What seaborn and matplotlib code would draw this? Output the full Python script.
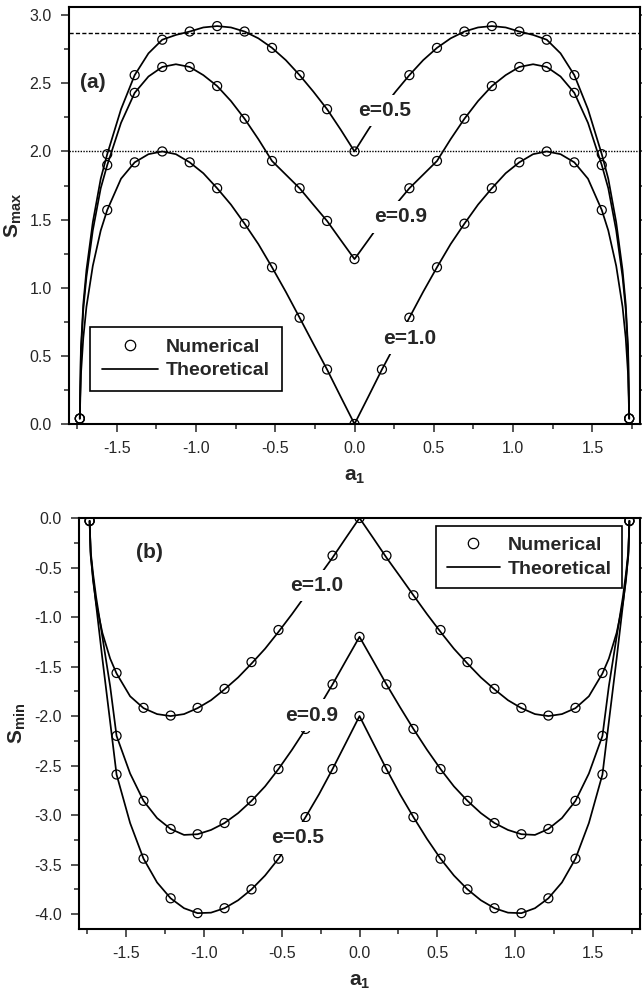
import matplotlib
matplotlib.use("Agg")
import matplotlib.pyplot as plt
from matplotlib.lines import Line2D
from matplotlib.ticker import MultipleLocator, FormatStrFormatter
import pandas as pd
import seaborn as sns

# ---- numerical points (circles), a1 from -sqrt(3) to sqrt(3) ----
a1_num = [-1.732, -1.559, -1.386, -1.212, -1.039, -0.866, -0.693, -0.520, -0.346, -0.173, 0.0,
          0.173, 0.346, 0.520, 0.693, 0.866, 1.039, 1.212, 1.386, 1.559, 1.732]

smax_num_05 = [0.04, 1.98, 2.56, 2.82, 2.88, 2.92, 2.88, 2.76, 2.56, 2.31, 2.00,
               2.31, 2.56, 2.76, 2.88, 2.92, 2.88, 2.82, 2.56, 1.98, 0.04]
smax_num_09 = [0.04, 1.90, 2.43, 2.62, 2.62, 2.48, 2.24, 1.93, 1.73, 1.49, 1.21,
               1.49, 1.73, 1.93, 2.24, 2.48, 2.62, 2.62, 2.43, 1.90, 0.04]
smax_num_10 = [0.04, 1.57, 1.92, 2.00, 1.92, 1.73, 1.47, 1.15, 0.78, 0.40, 0.00,
               0.40, 0.78, 1.15, 1.47, 1.73, 1.92, 2.00, 1.92, 1.57, 0.04]

smin_num_05 = [-0.03, -2.59, -3.44, -3.84, -3.99, -3.94, -3.75, -3.44, -3.02, -2.535, -2.00,
               -2.535, -3.02, -3.44, -3.75, -3.94, -3.99, -3.84, -3.44, -2.59, -0.03]
smin_num_09 = [-0.03, -2.20, -2.856, -3.14, -3.193, -3.08, -2.856, -2.535, -2.13, -1.68, -1.20,
               -1.68, -2.13, -2.535, -2.856, -3.08, -3.193, -3.14, -2.856, -2.20, -0.03]
smin_num_10 = [-0.03, -1.565, -1.917, -1.995, -1.917, -1.725, -1.455, -1.131, -0.78, -0.38, 0.00,
               -0.38, -0.78, -1.131, -1.455, -1.725, -1.917, -1.995, -1.917, -1.565, -0.03]

# ---- theoretical curves, read for a1 >= 0 (curves are symmetric in a1) ----
a1_line = [0.0, 0.087, 0.173, 0.26, 0.346, 0.433, 0.52, 0.606, 0.693, 0.779, 0.866, 0.953,
           1.039, 1.126, 1.212, 1.299, 1.386, 1.472, 1.559, 1.60, 1.65, 1.69, 1.71, 1.725, 1.732]

smax_th_05 = [2.00, 2.16, 2.31, 2.44, 2.56, 2.67, 2.76, 2.83, 2.88, 2.91, 2.92, 2.91,
              2.88, 2.855, 2.82, 2.72, 2.56, 2.31, 1.98, 1.80, 1.48, 1.13, 0.88, 0.55, 0.04]
smax_th_09 = [1.21, 1.35, 1.49, 1.61, 1.73, 1.83, 1.93, 2.09, 2.24, 2.37, 2.48, 2.56,
              2.62, 2.64, 2.62, 2.55, 2.43, 2.21, 1.90, 1.73, 1.42, 1.08, 0.84, 0.52, 0.04]
smax_th_10 = [0.00, 0.20, 0.40, 0.59, 0.78, 0.97, 1.15, 1.32, 1.47, 1.61, 1.73, 1.84,
              1.92, 1.98, 2.00, 1.98, 1.92, 1.80, 1.57, 1.42, 1.16, 0.86, 0.63, 0.36, 0.04]

smin_th_05 = [-2.00, -2.27, -2.535, -2.79, -3.02, -3.24, -3.44, -3.61, -3.75, -3.86, -3.94, -3.985,
              -3.99, -3.94, -3.84, -3.68, -3.44, -3.08, -2.59, -2.06, -1.42, -0.88, -0.60, -0.38, -0.03]
smin_th_09 = [-1.20, -1.44, -1.68, -1.91, -2.13, -2.34, -2.535, -2.71, -2.856, -2.98, -3.08, -3.15,
              -3.193, -3.20, -3.14, -3.03, -2.856, -2.58, -2.20, -1.70, -1.20, -0.80, -0.56, -0.34, -0.03]
smin_th_10 = [0.00, -0.20, -0.40, -0.59, -0.78, -0.97, -1.15, -1.32, -1.47, -1.61, -1.73, -1.84,
              -1.92, -1.98, -2.00, -1.98, -1.92, -1.80, -1.57, -1.42, -1.16, -0.86, -0.63, -0.36, -0.03]

e_values = ["0.5", "0.9", "1.0"]


def mirror(half_a, half_s):
    a = [-v for v in reversed(half_a[1:])] + list(half_a)
    s = list(reversed(half_s[1:])) + list(half_s)
    return a, s


def build_frames(num_lists, th_lists):
    num_rows, th_rows = [], []
    for e, ys in zip(e_values, num_lists):
        for a, s in zip(a1_num, ys):
            num_rows.append({"a1": a, "S": s, "e": e})
    for e, ys in zip(e_values, th_lists):
        aa, ss = mirror(a1_line, ys)
        for a, s in zip(aa, ss):
            th_rows.append({"a1": a, "S": s, "e": e})
    return pd.DataFrame(num_rows), pd.DataFrame(th_rows)


num_top, th_top = build_frames([smax_num_05, smax_num_09, smax_num_10],
                               [smax_th_05, smax_th_09, smax_th_10])
num_bot, th_bot = build_frames([smin_num_05, smin_num_09, smin_num_10],
                               [smin_th_05, smin_th_09, smin_th_10])

sns.set_style("ticks")
plt.rcParams["font.family"] = ["Liberation Sans", "DejaVu Sans"]
plt.rcParams["mathtext.fontset"] = "custom"
plt.rcParams["mathtext.rm"] = "Liberation Sans"
plt.rcParams["mathtext.bf"] = "Liberation Sans:bold"
plt.rcParams["mathtext.it"] = "Liberation Sans:italic"
plt.rcParams["axes.unicode_minus"] = False

fig = plt.figure(figsize=(6.42, 9.94), dpi=100)
ax1 = fig.add_axes([69 / 642, 1 - 424 / 994, 571 / 642, 417 / 994])
ax2 = fig.add_axes([79 / 642, 1 - 929 / 994, 561 / 642, 411 / 994])


def draw_panel(ax, num_df, th_df):
    sns.lineplot(data=th_df, x="a1", y="S", units="e", estimator=None, sort=False,
                 color="black", lw=1.25, legend=False, ax=ax, zorder=2)
    sns.scatterplot(data=num_df, x="a1", y="S", marker="o", s=42, facecolor="none",
                    edgecolor="black", linewidth=0.9, legend=False, ax=ax, zorder=3)
    ax.set_xlim(-1.8, 1.8)
    ax.xaxis.set_major_locator(MultipleLocator(0.5))
    ax.xaxis.set_minor_locator(MultipleLocator(0.25))
    ax.yaxis.set_major_locator(MultipleLocator(0.5))
    ax.yaxis.set_minor_locator(MultipleLocator(0.25))
    ax.xaxis.set_major_formatter(FormatStrFormatter("%.1f"))
    ax.yaxis.set_major_formatter(FormatStrFormatter("%.1f"))
    ax.tick_params(which="both", direction="out", right=True, labelright=False, width=1.1)
    ax.tick_params(which="major", length=5.5, pad=7, labelsize=11.5)
    ax.tick_params(which="minor", length=3.5)
    for sp in ax.spines.values():
        sp.set_visible(True)
        sp.set_linewidth(1.5)
        sp.set_color("black")


def legend_handles():
    return [Line2D([], [], marker="o", ls="none", mfc="none", mec="black", ms=7.5, mew=0.9),
            Line2D([], [], color="black", lw=1.25)]


label_box = dict(boxstyle="square,pad=0.3", fc="white", ec="none")

# ---- panel (a) ----
draw_panel(ax1, num_top, th_top)
ax1.set_ylim(0, 3.06)
ax1.axhline(2.87, color="black", lw=1.0, ls=(0, (3, 1.6)), zorder=1)
ax1.axhline(2.0, color="black", lw=1.0, ls=(0, (1, 1)), zorder=1)
ax1.set_xlabel(r"$\mathbf{a_1}$", fontsize=15, labelpad=8)
ax1.set_ylabel(r"$\mathbf{S_{max}}$", fontsize=15, labelpad=4)
ax1.text(0.019, 0.818, "(a)", transform=ax1.transAxes, fontsize=15, fontweight="bold",
         ha="left", va="center")
ax1.text(0.19, 2.30, "e=0.5", fontsize=15, fontweight="bold", ha="center", va="center",
         bbox=label_box, zorder=6)
ax1.text(0.29, 1.52, "e=0.9", fontsize=15, fontweight="bold", ha="center", va="center",
         bbox=label_box, zorder=6)
ax1.text(0.35, 0.63, "e=1.0", fontsize=15, fontweight="bold", ha="center", va="center",
         bbox=label_box, zorder=6)
leg1 = ax1.legend(legend_handles(), ["Numerical", "Theoretical"], loc="lower left",
                  bbox_to_anchor=(0.037, 0.079), borderaxespad=0, fancybox=False,
                  edgecolor="black", framealpha=1, prop={"weight": "bold", "size": 14},
                  handlelength=2.9, borderpad=0.6, handletextpad=0.4, labelspacing=0.3)
leg1.get_frame().set_linewidth(1.2)

# ---- panel (b) ----
draw_panel(ax2, num_bot, th_bot)
ax2.set_ylim(-4.15, 0.0)
ax2.set_xlabel(r"$\mathbf{a_1}$", fontsize=15, labelpad=8)
ax2.set_ylabel(r"$\mathbf{S_{min}}$", fontsize=15, labelpad=4)
ax2.text(0.102, 0.917, "(b)", transform=ax2.transAxes, fontsize=15, fontweight="bold",
         ha="left", va="center")
ax2.text(-0.275, -0.68, "e=1.0", fontsize=15, fontweight="bold", ha="center", va="center",
         bbox=label_box, zorder=6)
ax2.text(-0.31, -1.99, "e=0.9", fontsize=15, fontweight="bold", ha="center", va="center",
         bbox=label_box, zorder=6)
ax2.text(-0.40, -3.23, "e=0.5", fontsize=15, fontweight="bold", ha="center", va="center",
         bbox=label_box, zorder=6)
leg2 = ax2.legend(legend_handles(), ["Numerical", "Theoretical"], loc="upper right",
                  bbox_to_anchor=(0.968, 0.981), borderaxespad=0, fancybox=False,
                  edgecolor="black", framealpha=1, prop={"weight": "bold", "size": 14},
                  handlelength=2.7, borderpad=0.55, handletextpad=0.4, labelspacing=0.3)
leg2.get_frame().set_linewidth(1.2)

fig.savefig("out.png", dpi=100)
